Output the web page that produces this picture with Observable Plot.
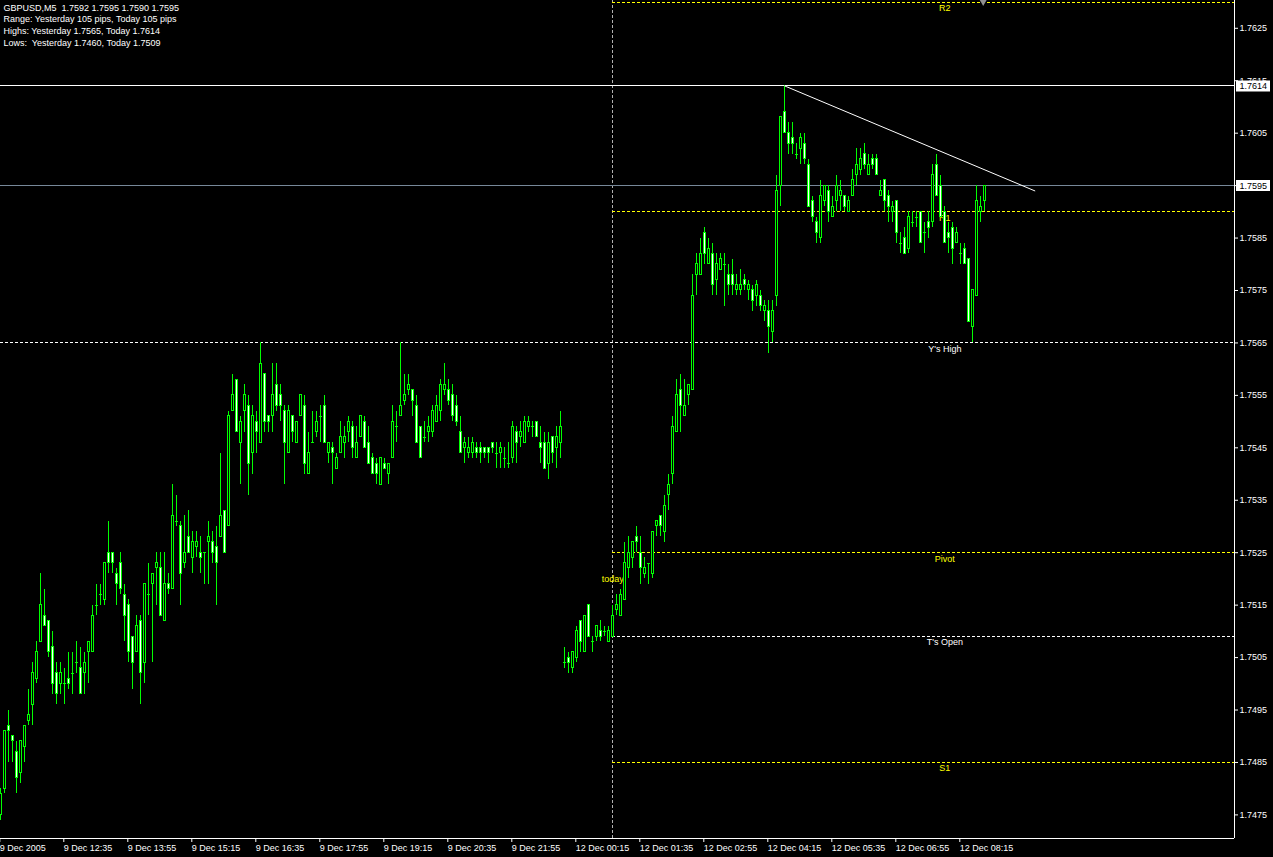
<!DOCTYPE html>
<html><head><meta charset="utf-8">
<script src="https://cdn.jsdelivr.net/npm/d3@7"></script>
<script src="https://cdn.jsdelivr.net/npm/@observablehq/plot@0.6"></script>
<style>
html,body{margin:0;padding:0;background:#000;overflow:hidden}
svg text{white-space:pre}
</style></head><body><div id="chart"></div>
<script>
// ---- GBPUSD M5 candles, 9 Dec 2005 11:15 ... 12 Dec 2005 08:45 (bar index 0..246)
const O = [
1.7475,1.7480,1.7492,1.7490,1.7487,1.7483,1.7488,1.7493,1.7496,1.7501,
1.7508,1.7513,1.7512,1.7507,1.7502,1.7500,1.7500,1.7501,1.7502,1.7504,
1.7503,1.7502,1.7506,1.7506,1.7515,1.7517,1.7516,1.7525,1.7525,1.7521,
1.7523,1.7517,1.7515,1.7509,1.7506,1.7512,1.7504,1.7517,1.7519,1.7522,
1.7522,1.7512,1.7519,1.7518,1.7531,1.7530,1.7523,1.7528,1.7524,1.7526,
1.7525,1.7525,1.7527,1.7527,1.7526,1.7528,1.7533,1.7530,1.7552,1.7558,
1.7546,1.7552,1.7553,1.7544,1.7550,1.7546,1.7559,1.7551,1.7551,1.7557,
1.7555,1.7552,1.7544,1.7551,1.7546,1.7551,1.7553,1.7540,1.7546,1.7548,
1.7551,1.7553,1.7544,1.7545,1.7541,1.7544,1.7546,1.7548,1.7549,1.7543,
1.7547,1.7550,1.7546,1.7543,1.7542,1.7538,1.7542,1.7540,1.7543,1.7549,
1.7551,1.7554,1.7556,1.7556,1.7553,1.7549,1.7547,1.7548,1.7548,1.7550,
1.7552,1.7556,1.7556,1.7555,1.7553,1.7548,1.7545,1.7544,1.7544,1.7545,
1.7545,1.7545,1.7545,1.7546,1.7544,1.7544,1.7543,1.7542,1.7543,1.7548,
1.7547,1.7546,1.7549,1.7549,1.7550,1.7546,1.7546,1.7542,1.7547,1.7545,
1.7546,1.7504,1.7505,1.7503,1.7505,1.7512,1.7506,1.7515,1.7508,1.7509,
1.7510,1.7510,1.7508,1.7509,1.7514,1.7513,1.7516,1.7522,1.7524,1.7528,
1.7525,1.7521,1.7523,1.7521,1.7530,1.7532,1.7529,1.7536,1.7540,1.7548,
1.7556,1.7551,1.7555,1.7556,1.7578,1.7578,1.7586,1.7580,1.7582,1.7577,
1.7579,1.7580,1.7578,1.7578,1.7575,1.7575,1.7577,1.7575,1.7575,1.7574,
1.7574,1.7571,1.7571,1.7567,1.7574,1.7595,1.7609,1.7605,1.7604,1.7601,
1.7602,1.7603,1.7599,1.7592,1.7588,1.7585,1.7592,1.7594,1.7589,1.7592,
1.7593,1.7593,1.7590,1.7593,1.7597,1.7598,1.7601,1.7597,1.7600,1.7600,
1.7593,1.7596,1.7593,1.7590,1.7592,1.7584,1.7585,1.7583,1.7588,1.7589,
1.7590,1.7586,1.7588,1.7588,1.7599,1.7595,1.7590,1.7586,1.7587,1.7584,
1.7582,1.7583,1.7581,1.7568,1.7574,1.7590,1.7592];
const H = [
1.7480,1.7491,1.7495,1.7490,1.7489,1.7489,1.7492,1.7499,1.7504,1.7508,
1.7521,1.7518,1.7512,1.7510,1.7504,1.7504,1.7503,1.7506,1.7506,1.7508,
1.7507,1.7506,1.7508,1.7515,1.7519,1.7519,1.7523,1.7531,1.7525,1.7522,
1.7525,1.7519,1.7516,1.7509,1.7513,1.7513,1.7519,1.7523,1.7521,1.7525,
1.7525,1.7525,1.7521,1.7538,1.7536,1.7531,1.7532,1.7533,1.7529,1.7529,
1.7528,1.7525,1.7531,1.7529,1.7530,1.7544,1.7533,1.7552,1.7559,1.7558,
1.7551,1.7557,1.7555,1.7553,1.7552,1.7565,1.7559,1.7551,1.7561,1.7561,
1.7557,1.7553,1.7553,1.7551,1.7550,1.7555,1.7555,1.7548,1.7552,1.7552,
1.7553,1.7555,1.7546,1.7546,1.7544,1.7550,1.7549,1.7551,1.7550,1.7549,
1.7551,1.7551,1.7549,1.7544,1.7543,1.7543,1.7543,1.7542,1.7553,1.7552,
1.7565,1.7559,1.7559,1.7556,1.7555,1.7549,1.7550,1.7551,1.7553,1.7555,
1.7558,1.7561,1.7558,1.7557,1.7555,1.7551,1.7547,1.7547,1.7547,1.7546,
1.7546,1.7545,1.7545,1.7546,1.7546,1.7546,1.7545,1.7546,1.7550,1.7549,
1.7550,1.7551,1.7551,1.7550,1.7550,1.7549,1.7548,1.7548,1.7547,1.7549,
1.7552,1.7507,1.7506,1.7506,1.7511,1.7512,1.7513,1.7515,1.7509,1.7511,
1.7512,1.7511,1.7511,1.7515,1.7517,1.7518,1.7527,1.7528,1.7527,1.7530,
1.7528,1.7524,1.7523,1.7529,1.7531,1.7532,1.7536,1.7540,1.7551,1.7558,
1.7559,1.7558,1.7557,1.7578,1.7582,1.7585,1.7587,1.7585,1.7584,1.7582,
1.7582,1.7582,1.7580,1.7581,1.7578,1.7579,1.7578,1.7577,1.7576,1.7577,
1.7575,1.7573,1.7573,1.7573,1.7597,1.7608,1.7614,1.7607,1.7607,1.7603,
1.7605,1.7605,1.7600,1.7593,1.7589,1.7596,1.7595,1.7595,1.7593,1.7597,
1.7596,1.7593,1.7593,1.7598,1.7602,1.7602,1.7603,1.7601,1.7601,1.7601,
1.7596,1.7596,1.7594,1.7592,1.7592,1.7586,1.7587,1.7590,1.7590,1.7590,
1.7590,1.7588,1.7590,1.7599,1.7601,1.7597,1.7591,1.7588,1.7588,1.7587,
1.7584,1.7584,1.7581,1.7575,1.7595,1.7593,1.7595];
const L = [
1.7474,1.7479,1.7485,1.7485,1.7479,1.7481,1.7485,1.7492,1.7492,1.7500,
1.7508,1.7511,1.7505,1.7498,1.7496,1.7498,1.7496,1.7499,1.7498,1.7502,
1.7498,1.7498,1.7500,1.7506,1.7513,1.7515,1.7515,1.7521,1.7521,1.7515,
1.7517,1.7508,1.7504,1.7499,1.7506,1.7496,1.7500,1.7513,1.7504,1.7515,
1.7513,1.7512,1.7517,1.7518,1.7530,1.7515,1.7522,1.7525,1.7521,1.7524,
1.7521,1.7519,1.7519,1.7523,1.7515,1.7528,1.7525,1.7530,1.7552,1.7548,
1.7538,1.7548,1.7536,1.7540,1.7544,1.7546,1.7548,1.7548,1.7548,1.7552,
1.7550,1.7538,1.7544,1.7546,1.7546,1.7551,1.7540,1.7540,1.7546,1.7547,
1.7546,1.7546,1.7542,1.7538,1.7541,1.7544,1.7543,1.7546,1.7543,1.7543,
1.7547,1.7545,1.7542,1.7540,1.7538,1.7538,1.7541,1.7538,1.7543,1.7546,
1.7551,1.7553,1.7555,1.7551,1.7546,1.7543,1.7546,1.7546,1.7547,1.7550,
1.7550,1.7555,1.7553,1.7550,1.7549,1.7544,1.7542,1.7543,1.7543,1.7543,
1.7542,1.7543,1.7542,1.7544,1.7541,1.7541,1.7541,1.7541,1.7542,1.7542,
1.7545,1.7546,1.7548,1.7547,1.7547,1.7542,1.7541,1.7539,1.7542,1.7541,
1.7543,1.7503,1.7502,1.7502,1.7504,1.7506,1.7506,1.7509,1.7506,1.7508,
1.7508,1.7509,1.7508,1.7509,1.7513,1.7513,1.7516,1.7520,1.7522,1.7525,
1.7519,1.7520,1.7519,1.7520,1.7528,1.7528,1.7527,1.7533,1.7538,1.7548,
1.7548,1.7551,1.7553,1.7556,1.7574,1.7578,1.7580,1.7580,1.7574,1.7574,
1.7579,1.7572,1.7574,1.7574,1.7574,1.7574,1.7575,1.7573,1.7571,1.7572,
1.7571,1.7569,1.7563,1.7565,1.7572,1.7591,1.7605,1.7601,1.7601,1.7600,
1.7599,1.7599,1.7591,1.7588,1.7584,1.7584,1.7591,1.7588,1.7589,1.7590,
1.7590,1.7590,1.7590,1.7593,1.7595,1.7597,1.7598,1.7597,1.7598,1.7597,
1.7593,1.7590,1.7588,1.7588,1.7584,1.7582,1.7582,1.7582,1.7587,1.7587,
1.7584,1.7582,1.7585,1.7587,1.7593,1.7589,1.7584,1.7582,1.7580,1.7584,
1.7580,1.7580,1.7569,1.7565,1.7574,1.7588,1.7590];
const C = [
1.7479,1.7491,1.7491,1.7489,1.7482,1.7489,1.7492,1.7494,1.7502,1.7506,
1.7515,1.7511,1.7506,1.7500,1.7498,1.7502,1.7500,1.7500,1.7502,1.7504,
1.7498,1.7504,1.7508,1.7513,1.7515,1.7517,1.7523,1.7523,1.7523,1.7519,
1.7518,1.7513,1.7506,1.7504,1.7511,1.7502,1.7519,1.7517,1.7521,1.7523,
1.7513,1.7519,1.7518,1.7532,1.7531,1.7521,1.7525,1.7525,1.7527,1.7527,
1.7524,1.7525,1.7528,1.7525,1.7523,1.7532,1.7525,1.7551,1.7555,1.7548,
1.7550,1.7555,1.7542,1.7551,1.7548,1.7561,1.7550,1.7550,1.7555,1.7553,
1.7553,1.7546,1.7552,1.7548,1.7550,1.7555,1.7542,1.7544,1.7546,1.7550,
1.7551,1.7546,1.7546,1.7544,1.7543,1.7547,1.7547,1.7550,1.7545,1.7546,
1.7551,1.7545,1.7542,1.7540,1.7540,1.7543,1.7541,1.7542,1.7550,1.7549,
1.7553,1.7555,1.7557,1.7554,1.7546,1.7543,1.7547,1.7549,1.7552,1.7553,
1.7557,1.7557,1.7554,1.7551,1.7550,1.7544,1.7546,1.7545,1.7546,1.7544,
1.7544,1.7544,1.7544,1.7545,1.7544,1.7545,1.7543,1.7542,1.7549,1.7546,
1.7548,1.7550,1.7550,1.7549,1.7547,1.7545,1.7541,1.7546,1.7544,1.7547,
1.7549,1.7504,1.7504,1.7506,1.7510,1.7508,1.7513,1.7509,1.7508,1.7511,
1.7509,1.7510,1.7510,1.7513,1.7515,1.7517,1.7523,1.7525,1.7527,1.7527,
1.7522,1.7522,1.7523,1.7529,1.7531,1.7530,1.7534,1.7538,1.7549,1.7555,
1.7553,1.7553,1.7557,1.7574,1.7580,1.7582,1.7582,1.7583,1.7576,1.7580,
1.7581,1.7580,1.7576,1.7576,1.7576,1.7576,1.7576,1.7576,1.7573,1.7576,
1.7572,1.7572,1.7568,1.7571,1.7594,1.7608,1.7605,1.7603,1.7603,1.7601,
1.7604,1.7600,1.7591,1.7589,1.7586,1.7593,1.7595,1.7590,1.7591,1.7595,
1.7594,1.7591,1.7592,1.7596,1.7599,1.7600,1.7599,1.7599,1.7599,1.7597,
1.7594,1.7592,1.7591,1.7591,1.7586,1.7584,1.7582,1.7589,1.7588,1.7589,
1.7584,1.7586,1.7587,1.7597,1.7593,1.7589,1.7584,1.7585,1.7583,1.7586,
1.7582,1.7580,1.7569,1.7575,1.7592,1.7591,1.7595];

// time axis (bar index -> label)
const xTicks  = [0,16,32,48,64,80,96,112,128,144,160,176,192,208,224,240];
const xLabels = ["9 Dec 2005","9 Dec 12:35","9 Dec 13:55","9 Dec 15:15","9 Dec 16:35","9 Dec 17:55",
  "9 Dec 19:15","9 Dec 20:35","9 Dec 21:55","12 Dec 00:15","12 Dec 01:35","12 Dec 02:55",
  "12 Dec 04:15","12 Dec 05:35","12 Dec 06:55","12 Dec 08:15"];
// price axis
const yTicks = [1.7475,1.7485,1.7495,1.7505,1.7515,1.7525,1.7535,1.7545,1.7555,1.7565,1.7575,1.7585,1.7595,1.7605,1.7615,1.7625];

// pivot levels
const levelNames  = ["R2","R1","Y's High","Pivot","T's Open","S1"];
const levelValues = [1.7630,1.7590,1.7565,1.7525,1.7509,1.7485];
const levelColors = ["#ffff00","#ffff00","#ffffff","#ffff00","#ffffff","#ffff00"];
const levelFrom   = [153,153,-0.075,153,153,153];   // bar index where the level begins
const todayStart = 153;            // 12 Dec 01:00
const todayLabelPrice = 1.7520;
const levelLabelBar = 236;

const userLine = 1.7614;           // horizontal line at today's high
const bidPrice = 1.7595;           // current bid
const boxValues = [1.7614, 1.7595];
const trendBars = [196, 258.5];
const trendPrices = [1.7614, 1.7594];
const shiftMarkerBar = 245.6;

const headerLines = [
  "GBPUSD,M5  1.7592 1.7595 1.7590 1.7595",
  "Range: Yesterday 105 pips, Today 105 pips",
  "Highs: Yesterday 1.7565, Today 1.7614",
  "Lows:  Yesterday 1.7460, Today 1.7509"
];
const headerBaselines = [10, 21, 33, 45];

// ---- build
const xMin = -0.075, xMax = 308.425, yMin = 1.74705, yMax = 1.76303;
const lime = "#00ff00", yellow = "#ffff00";
const bars = O.map((o, k) => ({i: k, o, h: H[k], l: L[k], c: C[k]}));
const bodies = bars.filter(d => d.o !== d.c);
const dojis = bars.filter(d => d.o === d.c);
const levels = levelNames.map((name, k) => ({name, v: levelValues[k], col: levelColors[k], from: levelFrom[k]}));
const trend = trendBars.map((b, k) => ({i: b, p: trendPrices[k]}));
const xLabelMap = new Map(xTicks.map((t, k) => [t, xLabels[k]]));

const chart = Plot.plot({
  width: 1273, height: 857,
  marginTop: 0, marginLeft: 0, marginRight: 39, marginBottom: 19,
  style: {background: "#000", color: "#fff", fontFamily: "'Liberation Sans', Arial, sans-serif", fontSize: "9px"},
  x: {domain: [xMin, xMax]},
  y: {domain: [yMin, yMax]},
  marks: [
    Plot.ruleX([todayStart], {stroke: "#b0b0b0", strokeDasharray: "3,2", shapeRendering: "crispEdges"}),
    Plot.ruleY(levels, {y: "v", x1: "from", x2: xMax, stroke: "col", strokeDasharray: "3,2", shapeRendering: "crispEdges"}),
    Plot.ruleY([userLine], {stroke: "#ffffff", shapeRendering: "crispEdges"}),
    Plot.ruleY([bidPrice], {stroke: "#778899", shapeRendering: "crispEdges"}),
    Plot.text(levels, {x: levelLabelBar, y: "v", text: "name", fill: "col", dy: 6, lineAnchor: "middle"}),
    Plot.text(["today"], {x: todayStart, y: todayLabelPrice, text: d => d, fill: yellow, lineAnchor: "middle"}),
    Plot.ruleX(bars, {x: "i", y1: "l", y2: "h", stroke: lime, shapeRendering: "crispEdges"}),
    Plot.rect(bodies, {x1: d => d.i - 0.25, x2: d => d.i + 0.25, y1: "o", y2: "c",
      fill: d => d.c > d.o ? "#000000" : "#ffffff", stroke: lime, strokeWidth: 1, shapeRendering: "crispEdges"}),
    Plot.link(dojis, {x1: d => d.i - 0.375, x2: d => d.i + 0.375, y1: "o", y2: "o", stroke: lime, shapeRendering: "crispEdges"}),
    Plot.line(trend, {x: "i", y: "p", stroke: "#ffffff", strokeWidth: 1}),
    Plot.dot([shiftMarkerBar], {x: d => d, frameAnchor: "top", symbol: "triangle", rotate: 180, r: 3.5, fill: "#909090", stroke: "none"}),
    Plot.axisY({anchor: "right", ticks: yTicks, tickFormat: d => d.toFixed(4), tickSize: 3, tickPadding: 2, label: null}),
    Plot.axisX({anchor: "bottom", ticks: xTicks, tickFormat: d => xLabelMap.get(d), tickSize: 4, tickPadding: 2,
      textAnchor: "start", dx: -1, label: null}),
    Plot.ruleY([yMin], {stroke: "#ffffff", shapeRendering: "crispEdges"}),
    Plot.ruleX([xMax], {stroke: "#ffffff", shapeRendering: "crispEdges"}),
    Plot.ruleY(boxValues, {insetLeft: 1236, insetRight: -36, stroke: "#ffffff", strokeWidth: 11}),
    Plot.text(boxValues, {y: d => d, text: d => d.toFixed(4), frameAnchor: "right", dx: 5, textAnchor: "start", fill: "#000000"}),
    ...headerLines.map((t, k) => Plot.text([t], {text: d => d, frameAnchor: "top-left", dx: 3, dy: headerBaselines[k],
      lineAnchor: "bottom", textAnchor: "start", fill: "#ffffff"}))
  ]
});
document.getElementById("chart").appendChild(chart);
</script></body></html>
